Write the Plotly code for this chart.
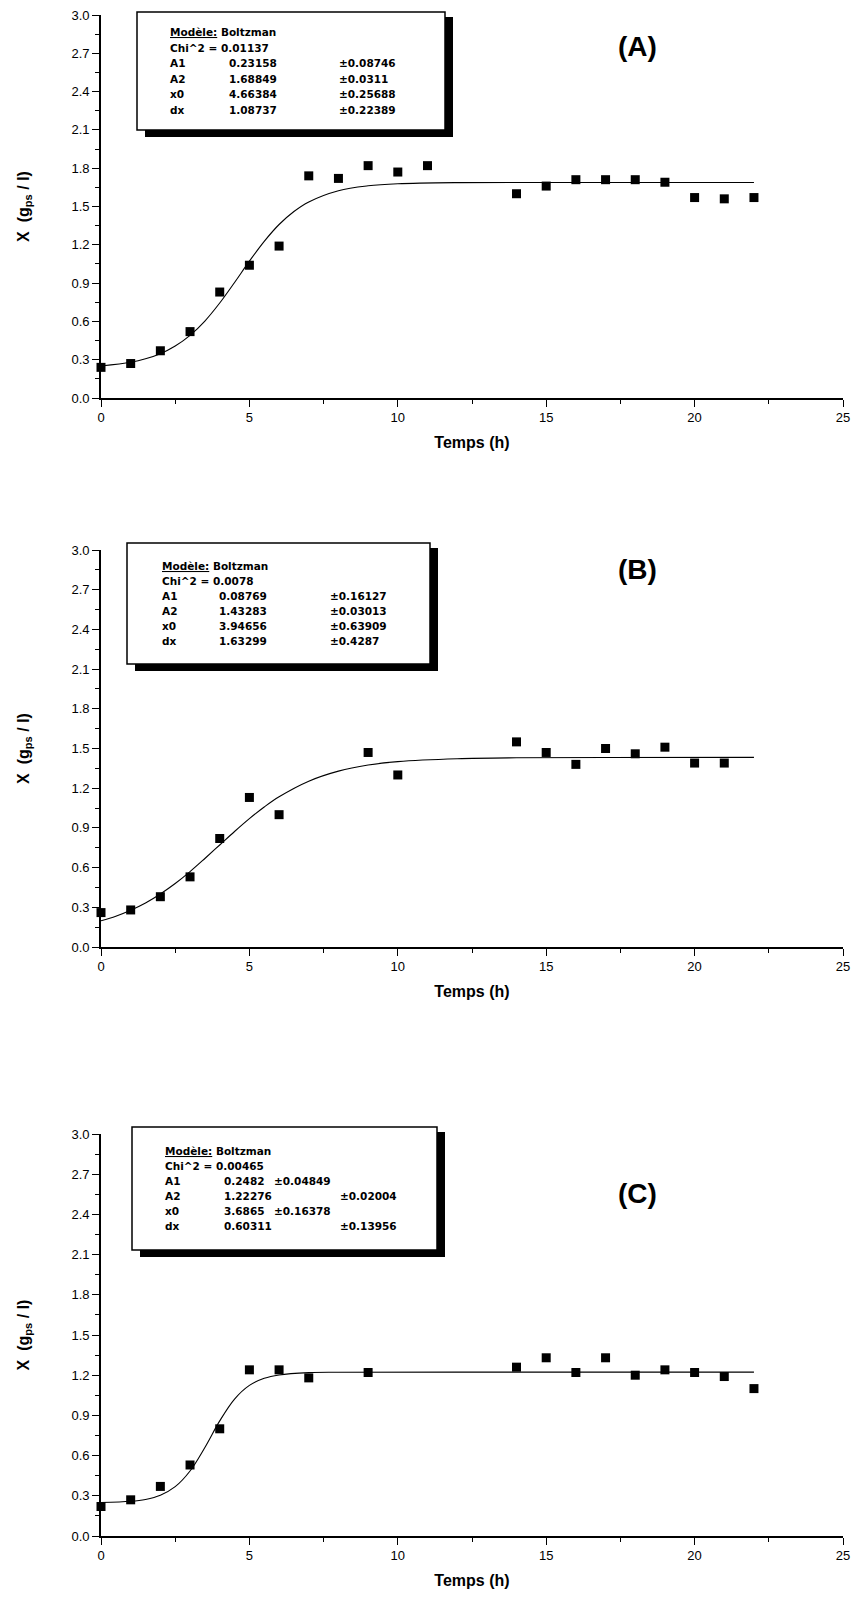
import plotly.graph_objects as go

# ---------------- data ----------------
time_A = [0, 1, 2, 3, 4, 5, 6, 7, 8, 9, 10, 11, 14, 15, 16, 17, 18, 19, 20, 21, 22]
X_A = [0.24, 0.27, 0.37, 0.52, 0.83, 1.04, 1.19, 1.74, 1.72, 1.82, 1.77, 1.82,
       1.60, 1.66, 1.71, 1.71, 1.71, 1.69, 1.57, 1.56, 1.57]
time_B = [0, 1, 2, 3, 4, 5, 6, 9, 10, 14, 15, 16, 17, 18, 19, 20, 21]
X_B = [0.26, 0.28, 0.38, 0.53, 0.82, 1.13, 1.00, 1.47, 1.30, 1.55, 1.47, 1.38,
       1.50, 1.46, 1.51, 1.39, 1.39]
time_C = [0, 1, 2, 3, 4, 5, 6, 7, 9, 14, 15, 16, 17, 18, 19, 20, 21, 22]
X_C = [0.22, 0.27, 0.37, 0.53, 0.80, 1.24, 1.24, 1.18, 1.22, 1.26, 1.33, 1.22,
       1.33, 1.20, 1.24, 1.22, 1.19, 1.10]

# fitted (Boltzmann) curves
fit_t_A = [0, 1, 1.5, 2, 2.5, 3, 3.5, 4, 4.5, 5, 5.5, 6, 6.5, 7, 8, 9, 10, 12, 15, 22]
fit_A = [0.251, 0.280, 0.307, 0.347, 0.407, 0.491, 0.603, 0.744, 0.905, 1.072,
         1.227, 1.359, 1.461, 1.536, 1.624, 1.662, 1.678, 1.687, 1.688, 1.688]
fit_t_B = [0, 0.5, 1, 1.5, 2, 2.5, 3, 3.5, 4, 4.5, 5, 5.5, 6, 7, 8, 9, 10, 12, 14, 17, 22]
fit_B = [0.198, 0.233, 0.278, 0.333, 0.401, 0.480, 0.570, 0.669, 0.771, 0.873,
         0.970, 1.058, 1.135, 1.253, 1.329, 1.375, 1.401, 1.423, 1.430, 1.432, 1.433]
fit_t_C = [0, 1, 1.5, 2, 2.5, 3, 3.5, 4, 4.5, 5, 5.5, 6, 7, 8, 12, 22]
fit_C = [0.250, 0.259, 0.273, 0.304, 0.368, 0.485, 0.661, 0.859, 1.022, 1.124,
         1.177, 1.202, 1.219, 1.222, 1.223, 1.223]

panel_labels = ["(A)", "(B)", "(C)"]
model_name = "Boltzman"
chi2 = ["0.01137", "0.0078", "0.00465"]
param_names = ["A1", "A2", "x0", "dx"]
param_vals_A = ["0.23158", "1.68849", "4.66384", "1.08737"]
param_err_A = ["±0.08746", "±0.0311", "±0.25688", "±0.22389"]
param_vals_B = ["0.08769", "1.43283", "3.94656", "1.63299"]
param_err_B = ["±0.16127", "±0.03013", "±0.63909", "±0.4287"]
param_vals_C = ["0.2482", "1.22276", "3.6865", "0.60311"]
param_err_C = ["±0.04849", "±0.02004", "±0.16378", "±0.13956"]

x_ticks = [0, 5, 10, 15, 20, 25]
y_ticks = [0.0, 0.3, 0.6, 0.9, 1.2, 1.5, 1.8, 2.1, 2.4, 2.7, 3.0]

# ---------------- geometry (reference pixels) ----------------
W, H = 857, 1618
L, R, T, B = 101, 14, 15, 82
PW, PH = W - L - R, H - T - B


def px(xp):
    return (xp - L) / PW


def py(yp):
    return (H - B - yp) / PH


panels = [
    dict(top=15, bot=398, box=(137, 445, 12, 130), cols=(168, 227, 337, 337),
         y0=32, label_y=47, t=time_A, v=X_A, ft=fit_t_A, fv=fit_A,
         vals=param_vals_A, errs=param_err_A, errx=[337, 337, 337, 337]),
    dict(top=550, bot=947, box=(127, 430, 543, 664), cols=(160, 217, 328, 328),
         y0=566, label_y=569, t=time_B, v=X_B, ft=fit_t_B, fv=fit_B,
         vals=param_vals_B, errs=param_err_B, errx=[328, 328, 328, 328]),
    dict(top=1134, bot=1536, box=(132, 437, 1127, 1250), cols=(163, 222, 338, 338),
         y0=1151, label_y=1193, t=time_C, v=X_C, ft=fit_t_C, fv=fit_C,
         vals=param_vals_C, errs=param_err_C, errx=[272, 338, 272, 338]),
]

FONT = "Liberation Sans, Arial, sans-serif"
BOXFONT = "DejaVu Sans, sans-serif"

fig = go.Figure()
shapes = []
annotations = []
layout_axes = {}

for i, p in enumerate(panels):
    n = "" if i == 0 else str(i + 1)
    xa, ya = "x" + n, "y" + n
    fig.add_trace(go.Scatter(x=p["ft"], y=p["fv"], mode="lines", xaxis=xa, yaxis=ya,
                             line=dict(color="black", width=1.1, shape="spline"),
                             showlegend=False, hoverinfo="skip"))
    fig.add_trace(go.Scatter(x=p["t"], y=p["v"], mode="markers", xaxis=xa, yaxis=ya,
                             marker=dict(symbol="square", size=9, color="black"),
                             cliponaxis=False, showlegend=False))
    axis_common = dict(showline=True, linecolor="black", linewidth=1.6, showgrid=False,
                       zeroline=False, ticks="outside", ticklen=7, tickwidth=1.4,
                       tickcolor="black", tickfont=dict(family=FONT, size=13, color="black"))
    layout_axes["xaxis" + n] = dict(
        axis_common, range=[0, 25], domain=[0, 1], anchor=ya, tickvals=x_ticks,
        minor=dict(dtick=2.5, ticklen=4, ticks="outside", tickcolor="black", tickwidth=1.2),
        title=dict(text="<b>Temps (h)</b>", font=dict(family=FONT, size=16, color="black"),
                   standoff=12))
    layout_axes["yaxis" + n] = dict(
        axis_common, range=[0, 3.0], domain=[py(p["bot"]), py(p["top"])], anchor=xa,
        tickvals=y_ticks, tickformat=".1f",
        minor=dict(dtick=0.15, ticklen=4, ticks="outside", tickcolor="black", tickwidth=1.2),
        title=dict(text="<b>X  (g<sub>ps</sub> / l)</b>",
                   font=dict(family=FONT, size=16, color="black"), standoff=38))

    # parameter box with drop shadow
    x0b, x1b, y0b, y1b = p["box"]
    shapes.append(dict(type="rect", xref="paper", yref="paper", layer="above",
                       x0=px(x0b + 8), x1=px(x1b + 8), y0=py(y1b + 7), y1=py(y0b + 5),
                       fillcolor="black", line=dict(width=0)))
    shapes.append(dict(type="rect", xref="paper", yref="paper", layer="above",
                       x0=px(x0b), x1=px(x1b), y0=py(y1b), y1=py(y0b),
                       fillcolor="white", line=dict(color="black", width=1.5)))
    step = (y1b - y0b - 2 * (p["y0"] - y0b)) / 5.0
    lines_y = [p["y0"] + k * step for k in range(6)]
    bf = dict(family=BOXFONT, size=10.5, color="black")
    annotations.append(dict(xref="paper", yref="paper", x=px(p["cols"][0]), y=py(lines_y[0]),
                            xanchor="left", yanchor="middle", showarrow=False, font=bf,
                            text="<b><u>Modèle:</u> " + model_name + "</b>"))
    annotations.append(dict(xref="paper", yref="paper", x=px(p["cols"][0]), y=py(lines_y[1]),
                            xanchor="left", yanchor="middle", showarrow=False, font=bf,
                            text="<b>Chi^2 = " + chi2[i] + "</b>"))
    for k in range(4):
        yk = py(lines_y[k + 2])
        annotations.append(dict(xref="paper", yref="paper", x=px(p["cols"][0]), y=yk,
                                xanchor="left", yanchor="middle", showarrow=False, font=bf,
                                text="<b>" + param_names[k] + "</b>"))
        annotations.append(dict(xref="paper", yref="paper", x=px(p["cols"][1]), y=yk,
                                xanchor="left", yanchor="middle", showarrow=False, font=bf,
                                text="<b>" + p["vals"][k] + "</b>"))
        annotations.append(dict(xref="paper", yref="paper", x=px(p["errx"][k]), y=yk,
                                xanchor="left", yanchor="middle", showarrow=False, font=bf,
                                text="<b>" + p["errs"][k] + "</b>"))
    annotations.append(dict(xref="paper", yref="paper", x=px(637), y=py(p["label_y"]),
                            xanchor="center", yanchor="middle", showarrow=False,
                            font=dict(family=FONT, size=28, color="black"),
                            text="<b>" + panel_labels[i] + "</b>"))

fig.update_layout(
    width=W, height=H, margin=dict(l=L, r=R, t=T, b=B, autoexpand=False),
    paper_bgcolor="white", plot_bgcolor="white", showlegend=False,
    shapes=shapes, annotations=annotations, **layout_axes)

fig.write_html(
    "out.html",
    config={"displayModeBar": False},
    post_script="document.body.style.margin='0';document.body.style.overflow='hidden';")
